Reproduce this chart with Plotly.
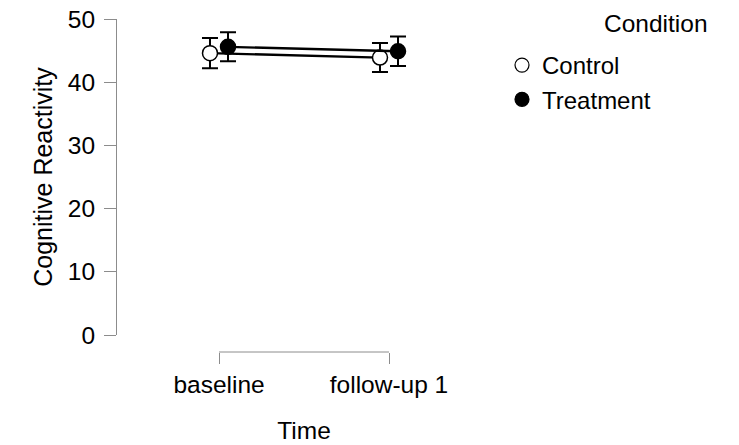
import plotly.graph_objects as go

# Cognitive reactivity by time point and condition (means with error bars)
times = ["baseline", "follow-up 1"]
conditions = ["Control", "Treatment"]
control_mean = [44.6, 43.9]
control_err = [2.4, 2.3]
treatment_mean = [45.6, 44.9]
treatment_err = [2.3, 2.35]
y_ticks = [0, 10, 20, 30, 40, 50]

FONT = "Liberation Sans, Arial, sans-serif"
FS = 24.5
AXIS_GREY = "#8c8c8c"
DODGE = 0.053  # horizontal offset between conditions at a time point

series = [
    ("Control", control_mean, control_err, "white", -DODGE),
    ("Treatment", treatment_mean, treatment_err, "black", DODGE),
]

fig = go.Figure()
for name, means, errs, fill, off in series:
    xs = [i + off for i in range(len(times))]
    fig.add_trace(go.Scatter(
        x=xs, y=means, mode="lines+markers", name=name, showlegend=False,
        line=dict(color="black", width=2.3),
        marker=dict(size=15, color=fill, line=dict(color="black", width=1.5)),
        error_y=dict(type="data", array=errs, color="black", thickness=2, width=8),
        cliponaxis=False,
    ))

# legend entries show the marker only
for name, means, errs, fill, off in series:
    fig.add_trace(go.Scatter(
        x=[None], y=[None], mode="markers", name=name,
        marker=dict(size=14, color=fill, line=dict(color="black", width=1.2)),
    ))

# axis bracket spanning the first to the last time point
fig.add_shape(type="line", xref="x", yref="paper",
              x0=0, x1=len(times) - 1, y0=0, y1=0,
              line=dict(color=AXIS_GREY, width=1))

fig.add_annotation(text="Condition", xref="paper", yref="paper",
                   x=1.586, y=1.033, showarrow=False, xanchor="right", yanchor="top",
                   font=dict(family=FONT, size=FS, color="black"))

fig.update_layout(
    width=739, height=445,
    margin=dict(l=117, r=248, t=19, b=93, autoexpand=False),
    paper_bgcolor="white", plot_bgcolor="white",
    font=dict(family=FONT, size=FS, color="black"),
    xaxis=dict(
        range=[-0.6, 1.6], tickvals=list(range(len(times))), ticktext=times,
        ticks="outside", ticklen=11, tickcolor=AXIS_GREY, tickwidth=1,
        tickfont=dict(size=FS), automargin=False,
        showline=False, showgrid=False, zeroline=False,
        anchor="free", position=0,
        title=dict(text="Time", standoff=24, font=dict(size=FS)),
    ),
    yaxis=dict(
        domain=[0.051, 1], range=[0, 50], tickvals=y_ticks,
        ticks="outside", ticklen=12, tickcolor=AXIS_GREY, tickwidth=1,
        tickfont=dict(size=FS), ticklabelstandoff=4, automargin=False,
        showline=True, linecolor=AXIS_GREY, linewidth=1,
        showgrid=False, zeroline=False,
        title=dict(text="Cognitive Reactivity", standoff=8, font=dict(size=FS + 0.5)),
    ),
    legend=dict(
        xref="container", yref="container", x=502 / 739, y=1 - 43 / 445,
        xanchor="left", yanchor="top", bgcolor="rgba(0,0,0,0)",
        font=dict(family=FONT, size=FS - 0.5), itemwidth=30, tracegroupgap=0,
    ),
)

fig.write_html("out.html")
